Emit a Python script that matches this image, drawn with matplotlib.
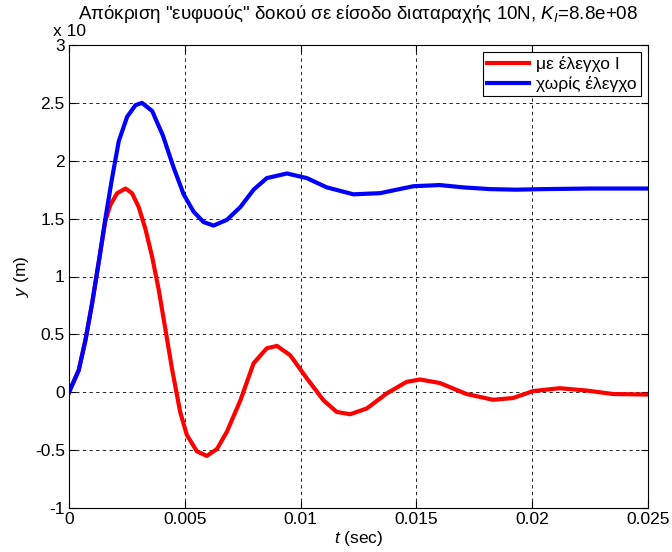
import numpy as np
import matplotlib.pyplot as plt
from matplotlib.ticker import FuncFormatter

plt.rcParams['font.family'] = ['Liberation Sans', 'DejaVu Sans']
plt.rcParams['mathtext.fontset'] = 'custom'
plt.rcParams['mathtext.rm'] = 'Liberation Sans'
plt.rcParams['mathtext.it'] = 'Liberation Sans:italic'

# values
t_blue = [0, 0.00042, 0.00071, 0.001, 0.00128, 0.00157, 0.00186, 0.00215,
          0.00251, 0.00287, 0.00315, 0.00359, 0.00405, 0.00452, 0.00495,
          0.00538, 0.00581, 0.00624, 0.00682, 0.0074, 0.00797, 0.00854,
          0.00941, 0.01027, 0.01113, 0.01228, 0.01343, 0.01487, 0.01601,
          0.01702, 0.01817, 0.0193, 0.0205, 0.0225, 0.025]
y_blue = [0, 0.19, 0.45, 0.77, 1.12, 1.50, 1.85, 2.17,
          2.38, 2.48, 2.50, 2.43, 2.22, 1.94, 1.71,
          1.56, 1.47, 1.44, 1.49, 1.60, 1.75, 1.85,
          1.89, 1.85, 1.77, 1.71, 1.72, 1.78, 1.79,
          1.77, 1.755, 1.75, 1.755, 1.76, 1.76]

t_red = [0, 0.00042, 0.00071, 0.001, 0.00128, 0.00157, 0.00179, 0.00208,
         0.00244, 0.00272, 0.00301, 0.0033, 0.00359, 0.00387, 0.0042,
         0.00445, 0.0048, 0.00509, 0.00552, 0.00595, 0.00639, 0.00682,
         0.0074, 0.00797, 0.00854, 0.00898, 0.00955, 0.01027, 0.01099,
         0.01156, 0.01214, 0.01286, 0.01372, 0.01458, 0.01516, 0.01601,
         0.01716, 0.01831, 0.01917, 0.02004, 0.02119, 0.02234, 0.02348,
         0.025]
y_red = [0, 0.19, 0.45, 0.77, 1.12, 1.48, 1.62, 1.72,
         1.76, 1.72, 1.60, 1.41, 1.17, 0.89, 0.50,
         0.20, -0.17, -0.37, -0.51, -0.55, -0.49, -0.34,
         -0.07, 0.25, 0.38, 0.40, 0.32, 0.12, -0.07,
         -0.17, -0.19, -0.14, -0.01, 0.09, 0.11, 0.08,
         -0.015, -0.065, -0.05, 0.01, 0.035, 0.015, -0.015,
         -0.02]

x_ticks = [0, 0.005, 0.01, 0.015, 0.02, 0.025]
y_ticks = [-1, -0.5, 0, 0.5, 1, 1.5, 2, 2.5, 3]

fig = plt.figure(figsize=(6.72, 5.52), dpi=100)
ax = fig.add_axes([69 / 672, 1 - 508 / 552, 579 / 672, 463 / 552])

ax.plot(t_red, y_red, color='red', lw=3, solid_joinstyle='round', label='με έλεγχο I')
ax.plot(t_blue, y_blue, color='blue', lw=3, solid_joinstyle='round', label='χωρίς έλεγχο')

ax.set_xlim(0, 0.025)
ax.set_ylim(-1, 3)
ax.set_xticks(x_ticks)
ax.set_yticks(y_ticks)
ax.xaxis.set_major_formatter(FuncFormatter(lambda v, p: f'{v:g}'))
ax.yaxis.set_major_formatter(FuncFormatter(lambda v, p: f'{v:g}'))
ax.tick_params(direction='in', length=5, top=True, right=True, labelsize=12.5, pad=3)
ax.grid(True, color='black', linestyle=(0, (4, 4)), linewidth=0.6)
for s in ax.spines.values():
    s.set_linewidth(0.8)

ax.set_xlabel('$t$ (sec)', fontsize=12.5, labelpad=1)
ax.set_ylabel('$y$ (m)', fontsize=12.5, labelpad=3)
ax.set_title('Απόκριση "ευφυούς" δοκού σε είσοδο διαταραχής 10N, $K_I$=8.8e+08',
             fontsize=13.5, pad=19)
# exponent label of the y axis, kept just under the title
fig.text(53 / 672, 1 - 36 / 552, 'x 10', fontsize=12.5)

leg = ax.legend(loc='upper right', fontsize=12.5, fancybox=False, framealpha=1,
                edgecolor='black', handlelength=2.4, borderaxespad=0.4,
                borderpad=0.25, labelspacing=0.2, handletextpad=0.4)
leg.get_frame().set_linewidth(0.8)

plt.savefig('out.png', dpi=100, facecolor='white')
